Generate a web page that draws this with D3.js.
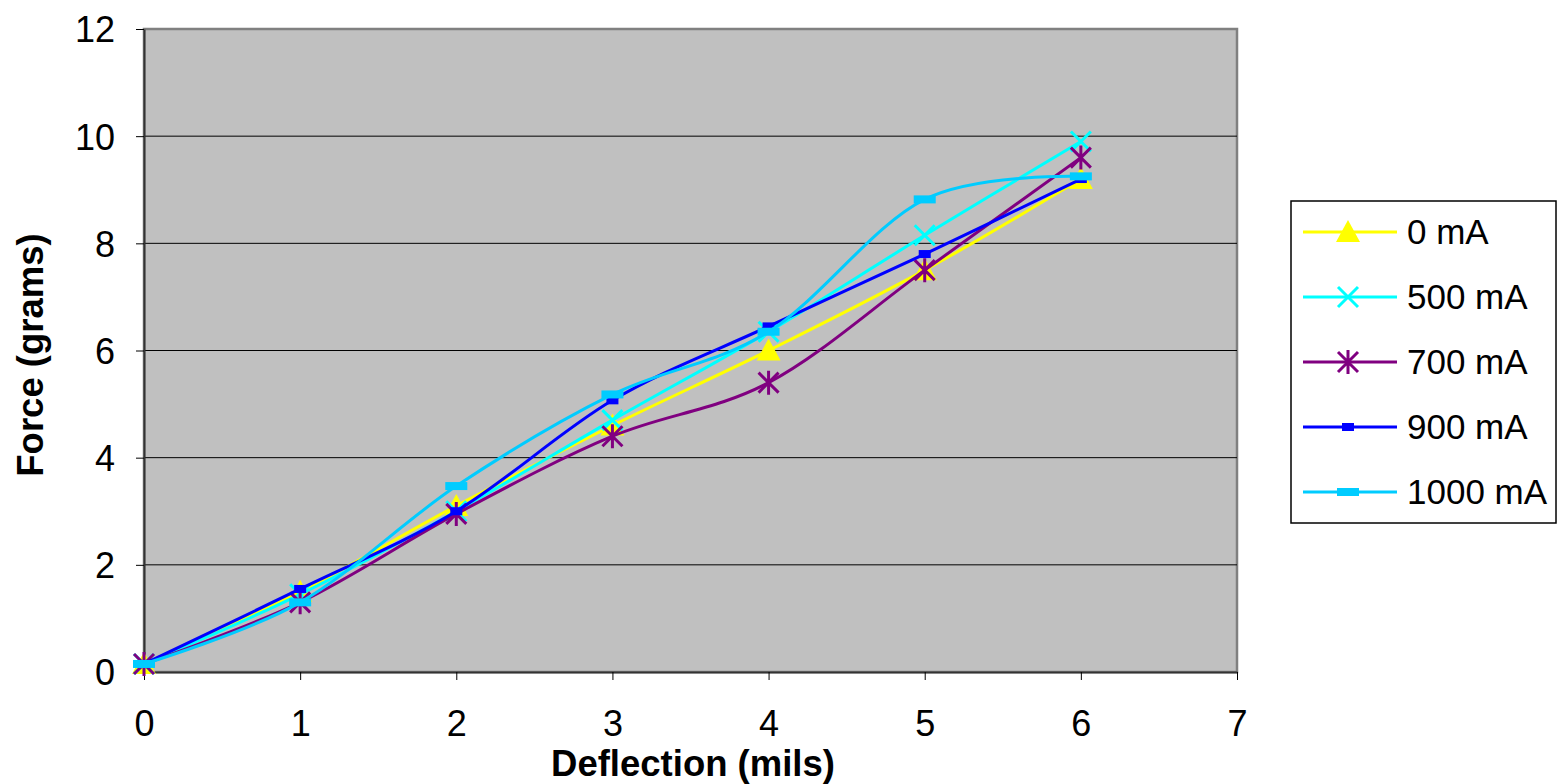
<!DOCTYPE html>
<html>
<head>
<meta charset="utf-8">
<script src="https://cdn.jsdelivr.net/npm/d3@7"></script>
<style>
  html, body { margin: 0; padding: 0; background: #fff; }
  svg { display: block; font-family: "Liberation Sans", Arial, sans-serif; }
</style>
</head>
<body>
<svg id="chart" width="1558" height="784"></svg>
<script>
// Deflection positions (mils)
const deflection = [0, 1, 2, 3, 4, 5, 6];

// Force readings (grams) per coil current
const force0 = [0.15, 1.5, 3.1, 4.6, 6.0, 7.5, 9.2];
const force500 = [0.15, 1.45, 3.0, 4.7, 6.35, 8.15, 9.9];
const force700 = [0.15, 1.3, 2.95, 4.4, 5.4, 7.5, 9.6];
const force900 = [0.15, 1.55, 3.0, 5.07, 6.45, 7.8, 9.2];
const force1000 = [0.15, 1.3, 3.47, 5.18, 6.35, 8.82, 9.25];

const seriesNames = ["0 mA", "500 mA", "700 mA", "900 mA", "1000 mA"];
const xTicks = [0, 1, 2, 3, 4, 5, 6, 7];
const yTicks = [0, 2, 4, 6, 8, 10, 12];

const series = [
  { name: seriesNames[0], values: force0, color: "#FFFF00", marker: "triangle" },
  { name: seriesNames[1], values: force500, color: "#00FFFF", marker: "x" },
  { name: seriesNames[2], values: force700, color: "#800080", marker: "star" },
  { name: seriesNames[3], values: force900, color: "#0000FF", marker: "dashSmall" },
  { name: seriesNames[4], values: force1000, color: "#00CCFF", marker: "dashBig" }
];

const svg = d3.select("#chart");
const plot = { left: 144, right: 1237, top: 29, bottom: 672 };

const x = d3.scaleLinear().domain([0, 7]).range([plot.left, plot.right]);
const y = d3.scaleLinear().domain([0, 12]).range([plot.bottom, plot.top]);

// Plot area background with darker frame
svg.append("rect")
  .attr("x", plot.left).attr("y", plot.top)
  .attr("width", plot.right - plot.left).attr("height", plot.bottom - plot.top)
  .attr("fill", "#C0C0C0")
  .attr("stroke", "#808080").attr("stroke-width", 2.5);

// Horizontal gridlines
svg.append("g").selectAll("line")
  .data(yTicks.filter(d => d > 0 && d < 12))
  .join("line")
  .attr("x1", plot.left).attr("x2", plot.right)
  .attr("y1", d => y(d)).attr("y2", d => y(d))
  .attr("stroke", "#000").attr("stroke-width", 1);

// Axes
const fmt = d3.format("d");
const yAxis = svg.append("g")
  .attr("transform", `translate(${plot.left},0)`)
  .call(d3.axisLeft(y).tickValues(yTicks).tickFormat(fmt).tickSize(8).tickPadding(21).tickSizeOuter(0));
const xAxis = svg.append("g")
  .attr("transform", `translate(0,${plot.bottom})`)
  .call(d3.axisBottom(x).tickValues(xTicks).tickFormat(fmt).tickSize(8).tickPadding(30).tickSizeOuter(0));

[yAxis, xAxis].forEach(g => {
  g.select(".domain").attr("stroke", "#333").attr("stroke-width", 2);
  g.selectAll(".tick line").attr("stroke", "#000").attr("stroke-width", 1);
  g.selectAll(".tick text")
    .attr("fill", "#000")
    .style("font-family", '"Liberation Sans", Arial, sans-serif')
    .style("font-size", "36px");
});
yAxis.selectAll(".tick text").attr("dy", "0.36em");

// Axis titles
svg.append("text")
  .attr("x", 693).attr("y", 776)
  .attr("text-anchor", "middle")
  .style("font-size", "36.5px").style("font-weight", "bold")
  .text("Deflection (mils)");

svg.append("text")
  .attr("transform", "translate(43,355) rotate(-90)")
  .attr("text-anchor", "middle")
  .style("font-size", "36.5px").style("font-weight", "bold")
  .text("Force (grams)");

// Marker shapes
function drawMarker(g, type, color) {
  if (type === "triangle") {
    g.append("path").attr("d", "M0,-12 L12,10 L-12,10 Z").attr("fill", color);
  } else if (type === "x") {
    g.append("path").attr("d", "M-10,-10 L10,10 M-10,10 L10,-10")
      .attr("stroke", color).attr("stroke-width", 3).attr("fill", "none");
  } else if (type === "star") {
    g.append("path").attr("d", "M-10,-10 L10,10 M-10,10 L10,-10 M0,-12 L0,12")
      .attr("stroke", color).attr("stroke-width", 3).attr("fill", "none");
  } else if (type === "dashSmall") {
    g.append("rect").attr("x", -6).attr("y", -4).attr("width", 12).attr("height", 8).attr("fill", color);
  } else if (type === "dashBig") {
    g.append("rect").attr("x", -11).attr("y", -4).attr("width", 22).attr("height", 8).attr("fill", color);
  }
}

const line = d3.line()
  .x((d, i) => x(deflection[i]))
  .y(d => y(d))
  .curve(d3.curveCardinal.tension(0));

const lines = svg.append("g");
series.forEach(s => {
  const g = lines.append("g");
  g.append("path")
    .attr("d", line(s.values))
    .attr("fill", "none")
    .attr("stroke", s.color)
    .attr("stroke-width", 3);
  s.values.forEach((v, i) => {
    const m = g.append("g").attr("transform", `translate(${x(deflection[i])},${y(v)})`);
    drawMarker(m, s.marker, s.color);
  });
});

// Legend
const legend = svg.append("g");
legend.append("rect")
  .attr("x", 1291).attr("y", 201).attr("width", 265).attr("height", 322)
  .attr("fill", "#fff").attr("stroke", "#000").attr("stroke-width", 1.5);

series.forEach((s, i) => {
  const cy = 232 + i * 65;
  const g = legend.append("g");
  g.append("line")
    .attr("x1", 1303).attr("x2", 1397).attr("y1", cy).attr("y2", cy)
    .attr("stroke", s.color).attr("stroke-width", 3);
  const m = g.append("g").attr("transform", `translate(1348,${cy})`);
  drawMarker(m, s.marker, s.color);
  g.append("text")
    .attr("x", 1407).attr("y", cy + 12)
    .style("font-size", "35px")
    .text(s.name);
});
</script>
</body>
</html>
